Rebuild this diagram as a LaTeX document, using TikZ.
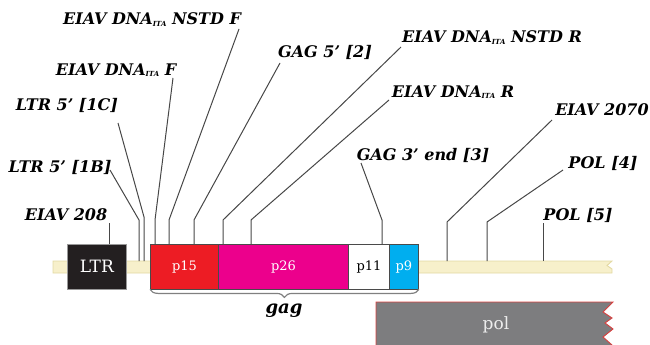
\documentclass[tikz,border=0pt]{standalone}
\usepackage{fontspec}
\setmainfont{DejaVu Serif}
\usetikzlibrary{decorations.pathreplacing}
\definecolor{cred}{HTML}{ED1C24}
\definecolor{cmag}{HTML}{EC008C}
\definecolor{ccyan}{HTML}{00AEEF}
\definecolor{cltr}{HTML}{231F20}
\definecolor{cbar}{HTML}{F7F0CB}
\definecolor{cbarline}{HTML}{E3D9A3}
\definecolor{cpol}{HTML}{7D7D7F}
\definecolor{cpolline}{HTML}{D9403F}
\definecolor{clead}{HTML}{474747}
\definecolor{cbox}{HTML}{4A4A4A}
\newcommand{\ita}{\raisebox{-1.5pt}{\fontsize{7}{7}\selectfont ITA}}
\tikzset{
  lbl/.style={inner sep=0pt, anchor=base, font=\fontsize{16}{16}\selectfont\bfseries\itshape},
  lead/.style={draw=clead, line width=1pt},
  gbox/.style={draw=cbox, line width=0.9pt, anchor=north west, minimum height=44.5pt, inner sep=0pt, font=\fontsize{13}{13}\selectfont},
}
\begin{document}
\begin{tikzpicture}[x=1pt,y=-1pt]
\useasboundingbox (0,0) rectangle (650,345);
% backbone
\path[fill=cbar, draw=cbarline, line width=0.9pt] (53,261) -- (612,261) -- (607,265.5) -- (612,269) -- (612,273) -- (53,273) -- cycle;
\coordinate (bartop) at (0,261);
% pol
\path[fill=cpol, draw=cpolline, line width=0.9pt] (376,348) -- (376,302) -- (613,302) -- (603,312) -- (612,318) -- (605,323) -- (613,329) -- (603,337) -- (612,345) -- (612,348) -- cycle;
\node[text=white!93!black, font=\fontsize{17}{17}\selectfont] (pol) at (496,325) {pol};
% LTR
\node[fill=cltr, draw=black!40, line width=0.6pt, anchor=north west, minimum width=59pt, minimum height=44.5pt, inner sep=0pt, text=white, font=\fontsize{17}{17}\selectfont] (ltr) at (67,244) {LTR};
% gag boxes
\node[gbox, fill=cred, text=white, minimum width=68pt] (p15) at (150,244) {p15};
\node[gbox, fill=cmag, text=white, minimum width=130pt] (p26) at (218,244) {p26};
\node[gbox, fill=white, text=black, minimum width=41pt] (p11) at (348,244) {p11};
\node[gbox, fill=ccyan, text=white, minimum width=29pt] (p9) at (389,244) {p9};
% brace
\draw[draw=black!50, line width=1.2pt, decorate, decoration={brace, mirror, amplitude=8pt}] (p15.south west) -- (p9.south east);
\node[lbl, font=\fontsize{18}{18}\selectfont\bfseries\itshape] (gag) at (284,313) {gag};
% labels
\node[lbl] (lnsf) at (152,25) {EIAV DNA\ita{} NSTD F};
\node[lbl] (lg5) at (325,58) {GAG 5’ [2]};
\node[lbl] (lnsr) at (492,43) {EIAV DNA\ita{} NSTD R};
\node[lbl] (ldf) at (116,75) {EIAV DNA\ita{} F};
\node[lbl] (ldr) at (453,97) {EIAV DNA\ita{} R};
\node[lbl] (l1c) at (67,110) {LTR 5’ [1C]};
\node[lbl] (l2070) at (602,115) {EIAV 2070};
\node[lbl] (lg3) at (423,160) {GAG 3’ end [3]};
\node[lbl] (lp4) at (603,168) {POL [4]};
\node[lbl] (l1b) at (60,172) {LTR 5’ [1B]};
\node[lbl] (l208) at (66,220) {EIAV 208};
\node[lbl] (lp5) at (578,220) {POL [5]};
% leader start points
\coordinate (s208) at (109,223);
\coordinate (s1b) at (110,170);
\coordinate (s1c) at (118,123);
\coordinate (sdf) at (173,78);
\coordinate (snsf) at (239,29);
\coordinate (sg5) at (280,63);
\coordinate (snsr) at (401,47);
\coordinate (sdr) at (389,100);
\coordinate (sg3) at (361,163);
\coordinate (s2070) at (552,120);
\coordinate (sp4) at (563,170);
\coordinate (sp5) at (543,223);
% bends
\coordinate (b1b) at (139,220);
\coordinate (b1c) at (144,217);
\coordinate (bdf) at (155,220);
\coordinate (bnsf) at (169,220);
\coordinate (bg5) at (194,220);
\coordinate (bnsr) at (223,220);
\coordinate (bdr) at (251,220);
\coordinate (bg3) at (382,220);
\coordinate (b2070) at (447,222);
\coordinate (bp4) at (487,222);
% leaders
\draw[lead] (s208) -- (s208 |- ltr.north);
\draw[lead] (s1b) -- (b1b) -- (b1b |- bartop);
\draw[lead] (s1c) -- (b1c) -- (b1c |- bartop);
\draw[lead] (sdf) -- (bdf) -- (bdf |- p15.north);
\draw[lead] (snsf) -- (bnsf) -- (bnsf |- p15.north);
\draw[lead] (sg5) -- (bg5) -- (bg5 |- p15.north);
\draw[lead] (snsr) -- (bnsr) -- (bnsr |- p26.north);
\draw[lead] (sdr) -- (bdr) -- (bdr |- p26.north);
\draw[lead] (sg3) -- (bg3) -- (bg3 |- p11.north);
\draw[lead] (s2070) -- (b2070) -- (b2070 |- bartop);
\draw[lead] (sp4) -- (bp4) -- (bp4 |- bartop);
\draw[lead] (sp5) -- (sp5 |- bartop);
\end{tikzpicture}
\end{document}
